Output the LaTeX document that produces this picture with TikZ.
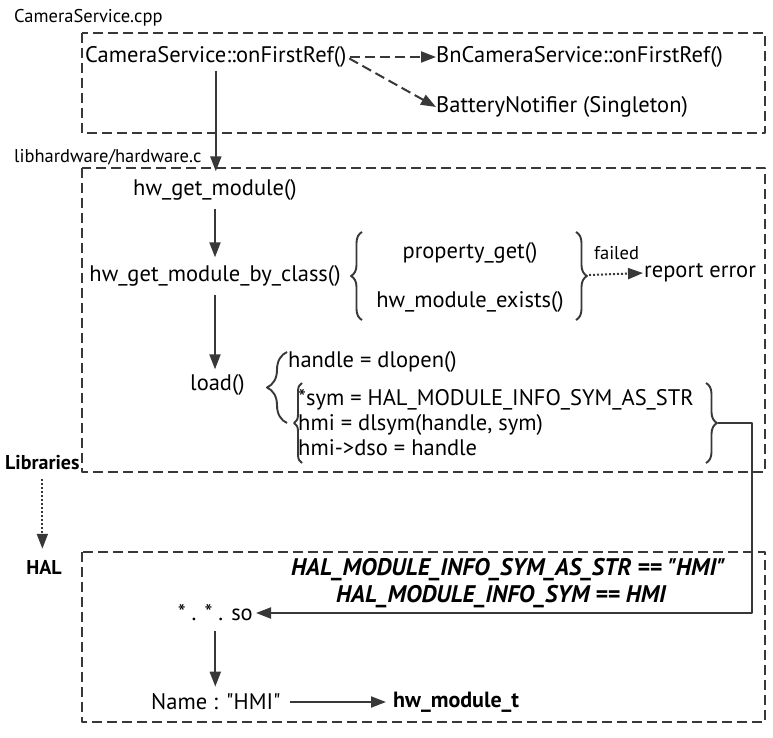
\documentclass[tikz,border=0pt]{standalone}
\usepackage{fontspec}
\setmainfont{PT Sans}
\usetikzlibrary{arrows.meta,decorations.pathreplacing}
\definecolor{xam}{HTML}{383838}
\tikzset{
	khung/.style={draw=xam,line width=2.5pt,dash pattern=on 10pt off 5pt},
	muiten/.style={draw=xam,line width=2pt,-{Triangle[length=15pt,width=11pt]}},
	ngoac/.style={draw=xam,line width=1.9pt,decorate,decoration={brace,amplitude=#1}},
	chu/.style={inner sep=0pt,font=\fontsize{22.5}{26}\selectfont},
	nho/.style={inner sep=0pt,font=\fontsize{18.5}{22}\selectfont},
	dam/.style={inner sep=0pt,font=\fontsize{20}{24}\selectfont\bfseries},
	bt/.style={inner sep=0pt,font=\fontsize{24}{28}\selectfont\bfseries\itshape},
}
\begin{document}
\begin{tikzpicture}[x=1pt,y=-1pt,line join=round]
	\useasboundingbox (0,0) rectangle (773,738);
	%==Khung
	\draw[khung] (82,33) rectangle (765,133);
	\draw[khung] (82,168) rectangle (765,472);
	\draw[khung] (82,552) rectangle (765,722);
	%==Nhan ngoai
	\node[nho,anchor=west] (cpp) at (14,18) {CameraService.cpp};
	\node[nho,anchor=west] (hwc) at (14,157) {libhardware/hardware.c};
	\node[dam,anchor=west] (lib) at (5,463) {Libraries};
	\node[dam] (hal) at (44,567) {HAL};
	%==CameraService
	\node[chu,anchor=west] (ofr) at (85,57) {CameraService::onFirstRef()};
	\node[chu,anchor=west] (bn) at (436,57) {BnCameraService::onFirstRef()};
	\node[chu,anchor=west] (bat) at (436,107) {BatteryNotifier (Singleton)};
	%==hardware.c
	\node[chu] (hgm) at (215,190) {hw\_get\_module()};
	\node[chu] (hgmc) at (215,276) {hw\_get\_module\_by\_class()};
	\node[chu] (pg) at (470,253) {property\_get()};
	\node[chu] (hme) at (470,302) {hw\_module\_exists()};
	\node[nho,anchor=west] (fail) at (594,253) {failed};
	\node[chu,anchor=west] (err) at (644,273) {report error};
	\node[chu,anchor=west] (load) at (190,385) {load()};
	\node[chu,anchor=west] (dlo) at (288,362) {handle = dlopen()};
	\node[chu,anchor=west] (sym) at (298,400) {*sym = HAL\_MODULE\_INFO\_SYM\_AS\_STR};
	\node[chu,anchor=west] (dls) at (298,425) {hmi = dlsym(handle, sym)};
	\node[chu,anchor=west] (dso) at (298,448) {hmi->dso = handle};
	%==HAL
	\node[bt] (eq1) at (508,570) {HAL\_MODULE\_INFO\_SYM\_AS\_STR == \textquotedbl HMI\textquotedbl};
	\node[bt] (eq2) at (501,597) {HAL\_MODULE\_INFO\_SYM == HMI};
	\node[chu,anchor=east] (so) at (253,613) {* . * . so};
	\node[chu,anchor=west] (name) at (151,702) {Name : \textquotedbl HMI\textquotedbl};
	\node[chu,anchor=west,font=\fontsize{22}{26}\selectfont\bfseries] (hmt) at (393,702) {hw\_module\_t};
	%==Ngoac
	\draw[ngoac=11pt] (362,320)--(362,232);
	\draw[ngoac=11pt] (576,232)--(576,320);
	\coordinate (b2) at (589,275);
	\draw[ngoac=20pt] (287,423)--(287,352);
	\draw[ngoac=8pt] (302,463)--(302,383);
	\draw[ngoac=11pt] (706,383)--(706,463);
	\coordinate (b4) at (718,423);
	\coordinate (g) at (752,423);
	%==Mui ten
	\draw[muiten,dash pattern=on 10pt off 5pt,shorten <=3pt] (ofr.east)--(bn.west);
	\draw[muiten,dash pattern=on 10pt off 5pt,shorten <=3pt] (ofr.east)--(bat.west);
	\draw[muiten,shorten <=3pt,shorten >=8pt] (ofr.south)--(ofr.south|-hgm.north);
	\draw[muiten,shorten <=8pt,shorten >=8pt] (hgm.south)--(hgm.south|-hgmc.north);
	\draw[muiten,shorten <=8pt,shorten >=5pt] (hgmc.south)--(hgmc.south|-load.north);
	\draw[muiten,dotted,shorten >=1pt] (b2)--(err.west);
	\draw[muiten,shorten >=3pt] (b4)--(g)|-(so.east);
	\draw[muiten,shorten <=10pt,shorten >=7pt] (so.south)--(so.south|-name.north);
	\draw[muiten,shorten <=9pt,shorten >=7pt] (name.east)--(hmt.west);
	\draw[muiten,dotted,shorten <=9pt,shorten >=11pt] (lib.south)--(lib.south|-hal.north);
\end{tikzpicture}
\end{document}
